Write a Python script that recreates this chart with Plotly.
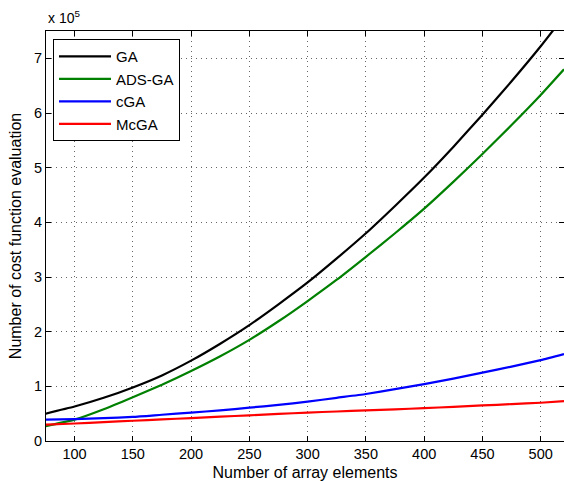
import plotly.graph_objects as go

# x: number of array elements; y values in units of 1e5
x_vals = [75, 100, 125, 150, 175, 200, 225, 250, 275, 300, 325, 350, 375, 400, 425, 450, 475, 500, 520]
ga     = [0.50, 0.63, 0.79, 0.98, 1.20, 1.47, 1.78, 2.12, 2.50, 2.90, 3.34, 3.80, 4.30, 4.82, 5.38, 5.97, 6.58, 7.22, 7.77]
ads_ga = [0.27, 0.39, 0.58, 0.80, 1.03, 1.28, 1.55, 1.85, 2.19, 2.56, 2.95, 3.37, 3.80, 4.25, 4.74, 5.25, 5.78, 6.33, 6.80]
cga    = [0.39, 0.40, 0.42, 0.44, 0.48, 0.52, 0.56, 0.61, 0.66, 0.72, 0.79, 0.86, 0.95, 1.04, 1.14, 1.25, 1.36, 1.48, 1.59]
mcga   = [0.30, 0.32, 0.345, 0.37, 0.395, 0.42, 0.445, 0.47, 0.495, 0.52, 0.54, 0.56, 0.58, 0.60, 0.625, 0.65, 0.675, 0.70, 0.73]

series = [("GA", ga, "#000000"), ("ADS-GA", ads_ga, "#008000"),
          ("cGA", cga, "#0000FF"), ("McGA", mcga, "#FF0000")]

x_ticks = [100, 150, 200, 250, 300, 350, 400, 450, 500]
y_ticks = [0, 1, 2, 3, 4, 5, 6, 7]

fig = go.Figure()
for name, ys, col in series:
    fig.add_trace(go.Scatter(x=x_vals, y=ys, mode="lines", name=name,
                             line=dict(color=col, width=2.2, shape="spline", smoothing=0.5)))

font = "Liberation Sans, Arial, Helvetica, sans-serif"
axis_common = dict(showline=True, linecolor="black", linewidth=1, mirror="allticks",
                   ticks="inside", ticklen=5, tickcolor="black",
                   showgrid=True, gridcolor="rgba(0,0,0,0.6)", gridwidth=1, griddash="1px,4px",
                   zeroline=False, tickfont=dict(size=14.5, color="black", family=font))

fig.update_xaxes(range=[75.5, 520], tickvals=x_ticks,
                 title=dict(text="Number of array elements", font=dict(size=16, color="black", family=font), standoff=6),
                 **axis_common)
fig.update_yaxes(range=[0, 7.5], tickvals=y_ticks,
                 title=dict(text="Number of cost function evaluation", font=dict(size=16, color="black", family=font), standoff=8),
                 **axis_common)

fig.add_annotation(text="x 10<sup>5</sup>", xref="paper", yref="paper", x=0, y=1,
                   xanchor="left", yanchor="bottom", yshift=3, showarrow=False,
                   font=dict(size=14, color="black", family=font))

fig.update_layout(
    width=564, height=481,
    margin=dict(l=46, r=0, t=31, b=40, autoexpand=False),
    plot_bgcolor="white", paper_bgcolor="white",
    font=dict(family=font, color="black"),
    legend=dict(x=0.0135, y=0.98, xanchor="left", yanchor="top",
                bgcolor="white", bordercolor="black", borderwidth=1,
                font=dict(size=15, color="black", family=font),
                itemwidth=52, tracegroupgap=0),
    showlegend=True,
)

fig.write_html("out.html", config={"displayModeBar": False},
               post_script="document.body.style.margin='0';document.body.style.padding='0';")
